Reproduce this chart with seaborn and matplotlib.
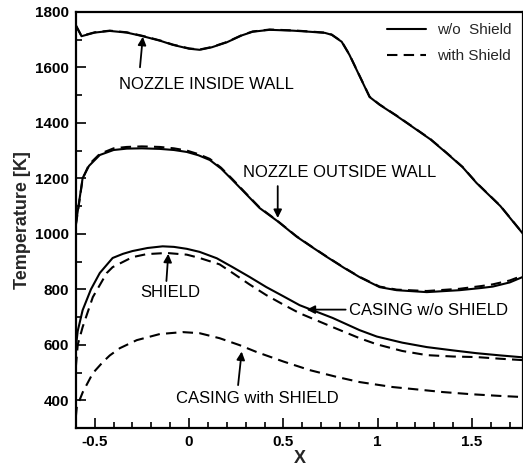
import matplotlib
matplotlib.use("Agg")
import matplotlib.pyplot as plt
from matplotlib.ticker import MultipleLocator
import seaborn as sns

# ---- data ----
inner_x = [-0.6, -0.57, -0.5, -0.42, -0.33, -0.245, -0.15, -0.087, 0.0, 0.056, 0.12, 0.2, 0.28, 0.337,
           0.427, 0.55, 0.64, 0.72, 0.756, 0.809, 0.85, 0.888, 0.957, 1.01, 1.1, 1.185, 1.28, 1.365,
           1.45, 1.524, 1.65, 1.77]
inner_wo = [1752, 1712, 1725, 1731, 1725, 1712, 1695, 1681, 1667, 1663, 1672, 1690, 1715, 1728,
            1735, 1732, 1728, 1724, 1717, 1692, 1645, 1591, 1493, 1465, 1425, 1385, 1340, 1291,
            1240, 1183, 1100, 1000]
inner_w = [1750, 1713, 1726, 1732, 1726, 1713, 1696, 1682, 1668, 1664, 1673, 1691, 1716, 1729,
           1736, 1733, 1729, 1725, 1718, 1693, 1646, 1592, 1494, 1466, 1426, 1386, 1341, 1292,
           1241, 1184, 1101, 1001]

outer_x = [-0.6, -0.564, -0.53, -0.473, -0.4, -0.33, -0.25, -0.155, -0.08, -0.012, 0.05, 0.11,
           0.17, 0.23, 0.3, 0.374, 0.47, 0.57, 0.65, 0.73, 0.82, 0.904, 1.01, 1.1, 1.26, 1.434,
           1.55, 1.61, 1.7, 1.77]
outer_wo = [1035, 1201, 1245, 1284, 1302, 1307, 1308, 1306, 1302, 1295, 1283, 1266,
            1235, 1194, 1145, 1093, 1045, 990, 953, 917, 878, 844, 808, 797, 790, 797,
            805, 810, 825, 845]
outer_w = [1030, 1198, 1250, 1288, 1308, 1313, 1315, 1313, 1308, 1300, 1287, 1270,
           1238, 1197, 1147, 1095, 1046, 991, 954, 918, 879, 845, 810, 799, 794, 802,
           812, 818, 832, 850]

casing_wo_x = [-0.6, -0.59, -0.564, -0.52, -0.473, -0.405, -0.35, -0.30, -0.22, -0.14,
               -0.08, -0.012, 0.056, 0.147, 0.231, 0.32, 0.41, 0.5, 0.586, 0.761, 0.904, 0.995,
               1.13, 1.26, 1.4, 1.524, 1.65, 1.77]
casing_wo = [590, 650, 725, 800, 859, 913, 928, 938, 949, 955,
             953, 946, 935, 912, 880, 845, 808, 775, 743, 697, 653, 630,
             608, 592, 580, 570, 562, 555]

shield_x = [-0.6, -0.59, -0.564, -0.51, -0.436, -0.405, -0.30, -0.224, -0.118, -0.012,
            0.056, 0.162, 0.231, 0.32, 0.41, 0.5, 0.586, 0.761, 0.904, 0.995, 1.13, 1.26, 1.4,
            1.524, 1.65, 1.77]
shield_w = [520, 600, 664, 772, 859, 880, 916, 927, 931, 925,
            913, 890, 859, 818, 779, 745, 714, 664, 624, 602, 578, 563, 558,
            556, 550, 545]

casing_w_x = [-0.6, -0.595, -0.563, -0.51, -0.457, -0.42, -0.367, -0.277, -0.155, -0.034,
              0.056, 0.162, 0.268, 0.359, 0.5, 0.64, 0.78, 0.904, 1.08, 1.2,
              1.345, 1.5, 1.65, 1.77]
casing_w = [340, 376, 430, 498, 538, 562, 588, 617, 639, 646,
            642, 624, 599, 574, 540, 509, 485, 466, 448, 440,
            430, 422, 416, 412]

legend_labels = ["w/o  Shield", "with Shield"]

# ---- style ----
sns.set_style("white")
plt.rcParams["font.family"] = ["Liberation Sans", "DejaVu Sans"]

fig = plt.figure(figsize=(5.23, 4.71), dpi=100)
ax = fig.add_axes([0.145, 0.091, 0.855, 0.884])

lw = 1.5
dash = (0, (5, 3))
kw = dict(estimator=None, sort=False, ax=ax, color="black", linewidth=lw)

h1 = sns.lineplot(x=inner_x, y=inner_wo, **kw).lines[-1]
h2 = sns.lineplot(x=inner_x, y=inner_w, linestyle=dash, **kw).lines[-1]
sns.lineplot(x=outer_x, y=outer_wo, **kw)
sns.lineplot(x=outer_x, y=outer_w, linestyle=dash, **kw)
sns.lineplot(x=casing_wo_x, y=casing_wo, **kw)
sns.lineplot(x=shield_x, y=shield_w, linestyle=dash, **kw)
sns.lineplot(x=casing_w_x, y=casing_w, linestyle=dash, **kw)

ax.set_xlim(-0.6, 1.77)
ax.set_ylim(300, 1800)
ax.xaxis.set_minor_locator(MultipleLocator(0.1))
ax.yaxis.set_minor_locator(MultipleLocator(100))
ax.set_yticks([400, 600, 800, 1000, 1200, 1400, 1600, 1800])
ax.set_xticks([-0.5, 0, 0.5, 1, 1.5])
ax.set_xticklabels(["-0.5", "0", "0.5", "1", "1.5"])
ax.tick_params(which="both", direction="in", bottom=True, left=True, top=False, right=False,
               colors="black", width=1.2)
ax.tick_params(which="major", length=7, labelsize=11, pad=5)
ax.tick_params(which="minor", length=4)
for lab in ax.get_xticklabels() + ax.get_yticklabels():
    lab.set_fontweight("bold")
for s in ax.spines.values():
    s.set_color("black")
    s.set_linewidth(1.6)

ax.set_xlabel("X", fontsize=13, fontweight="bold", labelpad=1)
ax.set_ylabel("Temperature [K]", fontsize=13, fontweight="bold", labelpad=3)

leg = ax.legend([h1, h2], legend_labels, loc="upper right", frameon=False, fontsize=11,
                handlelength=2.5, handletextpad=0.75, borderaxespad=0.35, labelspacing=0.8)

akw = dict(fontsize=12, ha="center", va="center", color="black")
arr = dict(arrowstyle="-|>", color="black", lw=1.3, mutation_scale=12, shrinkA=0, shrinkB=0)
ax.annotate("", xy=(-0.245, 1710), xytext=(-0.26, 1600), arrowprops=arr)
ax.text(0.094, 1537, "NOZZLE INSIDE WALL", **akw)
ax.annotate("", xy=(0.47, 1057), xytext=(0.47, 1172), arrowprops=arr)
ax.text(0.8, 1220, "NOZZLE OUTSIDE WALL", **akw)
ax.annotate("", xy=(-0.11, 928), xytext=(-0.12, 830), arrowprops=arr)
ax.text(-0.097, 790, "SHIELD", **akw)
ax.annotate("", xy=(0.623, 727), xytext=(0.83, 727), arrowprops=arr)
ax.text(1.27, 725, "CASING w/o SHIELD", **akw)
ax.annotate("", xy=(0.279, 576), xytext=(0.26, 455), arrowprops=arr)
ax.text(0.36, 408, "CASING with SHIELD", **akw)

fig.savefig("out.png", dpi=100, facecolor="white")
